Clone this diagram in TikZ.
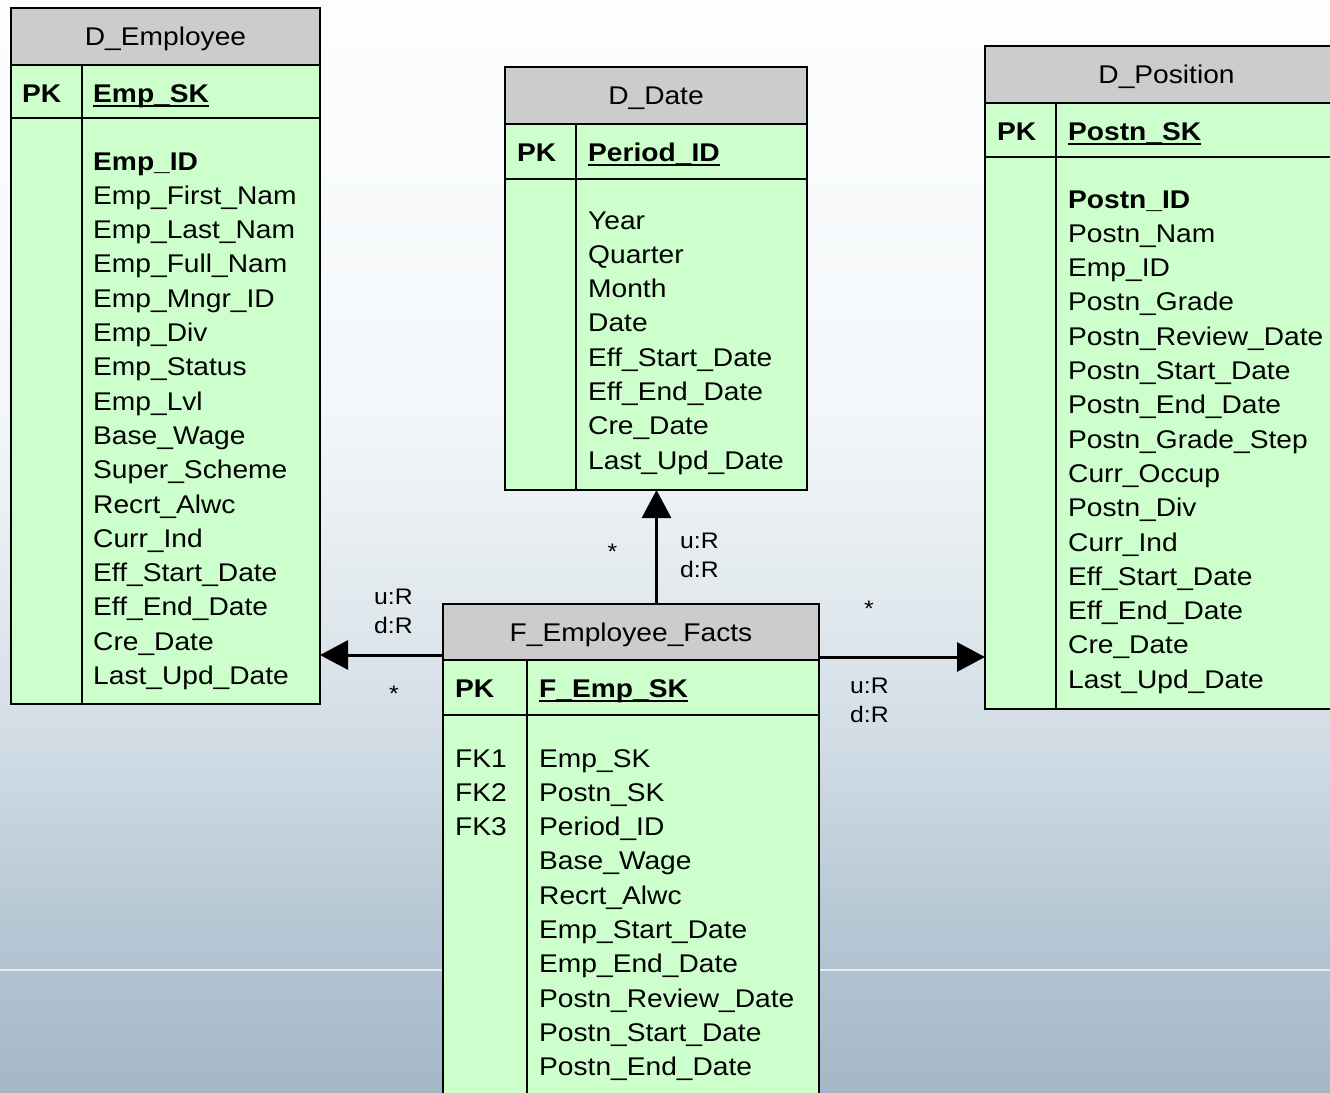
\documentclass[tikz,border=0pt]{standalone}
\usepackage{fontspec}
\setmainfont{Liberation Sans}[FakeStretch=1.1]
\usetikzlibrary{arrows.meta}

\definecolor{hdrgray}{RGB}{204,204,204}
\definecolor{bodygreen}{RGB}{204,255,204}

\newcommand{\fieldfont}{\fontsize{25.6}{34.3}\selectfont}
\newcommand{\labelfont}{\fontsize{22.5}{29.5}\selectfont}
\newcommand{\pkfield}[1]{\textbf{\setbox0\hbox{#1}\rlap{\rule[-4.5pt]{\wd0}{1.8pt}}\box0}}

\pgfdeclareverticalshading{water}{100bp}{rgb(0bp)=(0.64,0.72,0.78); rgb(25bp)=(0.64,0.72,0.78); rgb(33.8bp)=(0.725,0.79,0.84); rgb(40.6bp)=(0.815,0.86,0.895); rgb(47.5bp)=(0.885,0.915,0.935); rgb(56.7bp)=(0.955,0.97,0.98); rgb(75bp)=(0.99,0.993,0.996); rgb(100bp)=(0.99,0.993,0.996)}

\begin{document}
\begin{tikzpicture}[x=1pt, y=-1pt,
    tbl/.style={draw, line width=2pt, fill=bodygreen, inner sep=0pt, outer sep=0pt},
    hdr/.style={draw, line width=2pt, fill=hdrgray, minimum height=57pt, inner sep=0pt, outer sep=0pt, text height=18pt, text depth=0pt, font=\fieldfont},
    sepline/.style={line width=2pt},
    field/.style={anchor=base west, inner sep=0pt, font=\fieldfont},
    lbl/.style={anchor=base west, inner sep=0pt, font=\labelfont},
    rel/.style={line width=3pt, -{Triangle[length=28pt, width=29pt]}}]

    % background
    \path[use as bounding box, shade, shading=water] (0,0) rectangle (1330,1092);
    \clip (0,0) rectangle (1330,1092);
    \draw[white, opacity=0.7, line width=1.5pt] (0,970) -- (1330,970);

    % D_Employee
    \node[tbl, minimum width=309pt, minimum height=639pt] at (165.5, 384.5) (emp) {};
    \node[hdr, minimum width=309pt] at (165.5, 36.5) (emphead) {D\_Employee};
    \draw[sepline] (11,118) -- (320,118);
    \draw[sepline] (82,65) -- (82,704);
    \node[field] at (22,102) (emppk) {\textbf{PK}};
    \node[field] at (93,102) (empkey) {\pkfield{Emp\_SK}};
    \foreach \f [count=\i from 0] in {\textbf{Emp\_ID}, Emp\_First\_Nam, Emp\_Last\_Nam, Emp\_Full\_Nam, Emp\_Mngr\_ID, Emp\_Div, Emp\_Status, Emp\_Lvl, Base\_Wage, Super\_Scheme, Recrt\_Alwc, Curr\_Ind, Eff\_Start\_Date, Eff\_End\_Date, Cre\_Date, Last\_Upd\_Date}
        \node[field] at (93, 170+34.3*\i) (empf\i) {\f};

    % D_Date
    \node[tbl, minimum width=302pt, minimum height=366pt] at (656, 307) (date) {};
    \node[hdr, minimum width=302pt] at (656, 95.5) (datehead) {D\_Date};
    \draw[sepline] (505,179) -- (807,179);
    \draw[sepline] (576,124) -- (576,490);
    \node[field] at (517,161) (datepk) {\textbf{PK}};
    \node[field] at (588,161) (datekey) {\pkfield{Period\_ID}};
    \foreach \f [count=\i from 0] in {Year, Quarter, Month, Date, Eff\_Start\_Date, Eff\_End\_Date, Cre\_Date, Last\_Upd\_Date}
        \node[field] at (588, 229+34.3*\i) (datef\i) {\f};

    % D_Position
    \node[tbl, minimum width=363pt, minimum height=606pt] at (1166.5, 406) (pos) {};
    \node[hdr, minimum width=363pt] at (1166.5, 74.5) (poshead) {D\_Position};
    \draw[sepline] (985,157) -- (1348,157);
    \draw[sepline] (1056,103) -- (1056,709);
    \node[field] at (997,140) (pospk) {\textbf{PK}};
    \node[field] at (1068,140) (poskey) {\pkfield{Postn\_SK}};
    \foreach \f [count=\i from 0] in {\textbf{Postn\_ID}, Postn\_Nam, Emp\_ID, Postn\_Grade, Postn\_Review\_Date, Postn\_Start\_Date, Postn\_End\_Date, Postn\_Grade\_Step, Curr\_Occup, Postn\_Div, Curr\_Ind, Eff\_Start\_Date, Eff\_End\_Date, Cre\_Date, Last\_Upd\_Date}
        \node[field] at (1068, 208+34.3*\i) (posf\i) {\f};

    % F_Employee_Facts
    \node[tbl, minimum width=376pt, minimum height=450pt] at (631, 885) (fact) {};
    \node[hdr, minimum width=376pt, minimum height=56pt] at (631, 632) (facthead) {F\_Employee\_Facts};
    \draw[sepline] (443,715) -- (819,715);
    \draw[sepline] (527,660) -- (527,1110);
    \node[field] at (455,697) (factpk) {\textbf{PK}};
    \node[field] at (539,697) (factkey) {\pkfield{F\_Emp\_SK}};
    \foreach \k [count=\i from 0] in {FK1, FK2, FK3}
        \node[field] at (455, 767+34.3*\i) (factfk\i) {\k};
    \foreach \f [count=\i from 0] in {Emp\_SK, Postn\_SK, Period\_ID, Base\_Wage, Recrt\_Alwc, Emp\_Start\_Date, Emp\_End\_Date, Postn\_Review\_Date, Postn\_Start\_Date, Postn\_End\_Date}
        \node[field] at (539, 767+34.3*\i) (factf\i) {\f};

    % relationships
    \draw[rel] (facthead.west |- 0,655) -- (emp.east |- 0,655);
    \draw[rel] (facthead.north -| 656.5,0) -- (date.south -| 656.5,0);
    \draw[rel] (facthead.east |- 0,657) -- (pos.west |- 0,657);

    \node[lbl] at (374,604) (empu) {u:R};
    \node[lbl] at (374,633) (empd) {d:R};
    \node[lbl, anchor=base] at (394,701) (empm) {*};
    \node[lbl, anchor=base] at (612.5,559) (datem) {*};
    \node[lbl] at (680,548) (dateu) {u:R};
    \node[lbl] at (680,577) (dated) {d:R};
    \node[lbl, anchor=base] at (869,616) (posm) {*};
    \node[lbl] at (850,693) (posu) {u:R};
    \node[lbl] at (850,722) (posd) {d:R};
\end{tikzpicture}
\end{document}
